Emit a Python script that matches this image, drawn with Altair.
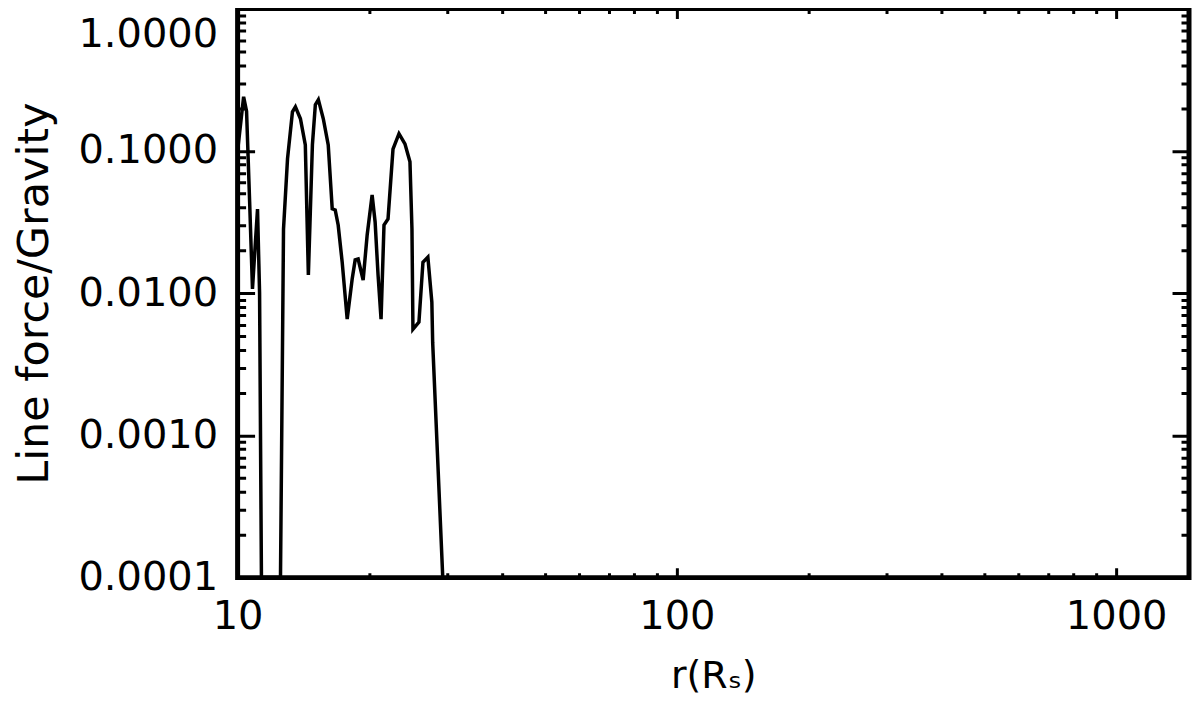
import altair as alt
import pandas as pd

# radius r (in R_s) and line force / gravity
r_vals = [10.0, 10.32, 10.48, 10.65, 10.81, 10.98, 11.10, 11.22, 11.33, 12.52,
          12.72, 12.99, 13.33, 13.54, 13.90, 14.26, 14.49, 14.80, 15.03, 15.27,
          15.67, 16.08, 16.42, 16.68, 16.94, 17.30, 17.76, 18.23, 18.52, 18.81,
          19.31, 19.72, 20.24, 20.56, 20.88, 21.21, 21.54, 22.00, 22.58, 23.30,
          24.04, 24.68, 24.94, 25.07, 25.87, 26.42, 27.11, 27.68, 27.80, 29.31]
force_vals = [0.10, 0.24, 0.19, 0.044, 0.0107, 0.023, 0.039, 0.010, 0.0001, 0.0001,
              0.0282, 0.0879, 0.188, 0.204, 0.168, 0.110, 0.0134, 0.110, 0.211, 0.229,
              0.168, 0.110, 0.0391, 0.0384, 0.0301, 0.0165, 0.00656, 0.01256, 0.0171, 0.01735,
              0.01236, 0.0256, 0.0490, 0.0316, 0.0134, 0.00656, 0.0301, 0.0332, 0.103, 0.132,
              0.112, 0.0837, 0.0282, 0.00557, 0.00625, 0.0165, 0.0179, 0.00865, 0.0045, 0.0001]

x_major = [10, 100, 1000]
x_minor = [20, 30, 40, 50, 60, 70, 80, 90, 200, 300, 400, 500, 600, 700, 800, 900]
y_major = [0.0001, 0.001, 0.01, 0.1, 1.0]
y_minor = [m * d for d in [0.0001, 0.001, 0.01, 0.1] for m in range(2, 10)]

x_domain = [10, 1465]
y_domain = [0.0001, 1.0]

W, H = 953, 570
YMAJ, YMIN = 17, 8
XMAJ, XMIN = 10, 5
FONT = "DejaVu Sans"

is_major = "abs(log(datum.value)/LN10 - round(log(datum.value)/LN10)) < 0.001"

df = pd.DataFrame({"r": r_vals, "f": force_vals})

x_axis = alt.Axis(
    values=sorted(x_major + x_minor),
    grid=True, gridColor="black", gridWidth=3, gridOpacity=1,
    gridDash={"condition": {"test": is_major, "value": [XMAJ, H - 2 * XMAJ, XMAJ, 5000]},
              "value": [XMIN, H - 2 * XMIN, XMIN, 5000]},
    domain=False, ticks=False, tickSize=0,
    labelExpr=f"({is_major}) ? format(datum.value, 'd') : ''",
    labelFont=FONT, labelFontSize=40, labelColor="black", labelPadding=19,
    labelBaseline="top", labelOverlap=False, labelFlush=False,
    title="r(Rₛ)", titleFont=FONT, titleFontSize=38, titleFontWeight="normal",
    titleColor="black", titleX=W / 2, titleY=110, titleAlign="center",
    titleBaseline="alphabetic", titleAngle=0,
)

y_axis = alt.Axis(
    values=sorted(y_major + y_minor),
    grid=True, gridColor="black", gridWidth=3, gridOpacity=1,
    gridDash={"condition": {"test": is_major, "value": [YMAJ, W - 2 * YMAJ, YMAJ, 5000]},
              "value": [YMIN, W - 2 * YMIN, YMIN, 5000]},
    domain=False, ticks=False, tickSize=0,
    labelExpr=f"({is_major}) ? format(datum.value, '.4f') : ''",
    labelFont=FONT, labelFontSize=40, labelColor="black", labelPadding=20,
    labelBaseline={"condition": {"test": "datum.value > 0.5", "value": "top"}, "value": "middle"},
    labelOffset={"condition": {"test": "datum.value > 0.5", "value": 6}, "value": 0},
    labelOverlap=False, labelFlush=False,
    title="Line force/Gravity", titleFont=FONT, titleFontSize=43, titleFontWeight="normal",
    titleColor="black", titleX=-190, titleY=H / 2, titleAngle=270, titleAlign="center",
    titleBaseline="alphabetic",
)

chart = (
    alt.Chart(df)
    .mark_line(color="black", strokeWidth=3.5)
    .encode(
        x=alt.X("r:Q", scale=alt.Scale(type="log", domain=x_domain, nice=False), axis=x_axis),
        y=alt.Y("f:Q", scale=alt.Scale(type="log", domain=y_domain, nice=False), axis=y_axis),
    )
    .properties(
        width=W, height=H,
        autosize=alt.AutoSizeParams(type="none"),
        padding={"left": 230, "top": 0, "right": 3, "bottom": 121},
        background="white",
    )
    .configure_view(stroke="black", strokeWidth=5)
)

chart.save("out.html", embed_options={"renderer": "svg", "actions": False})
